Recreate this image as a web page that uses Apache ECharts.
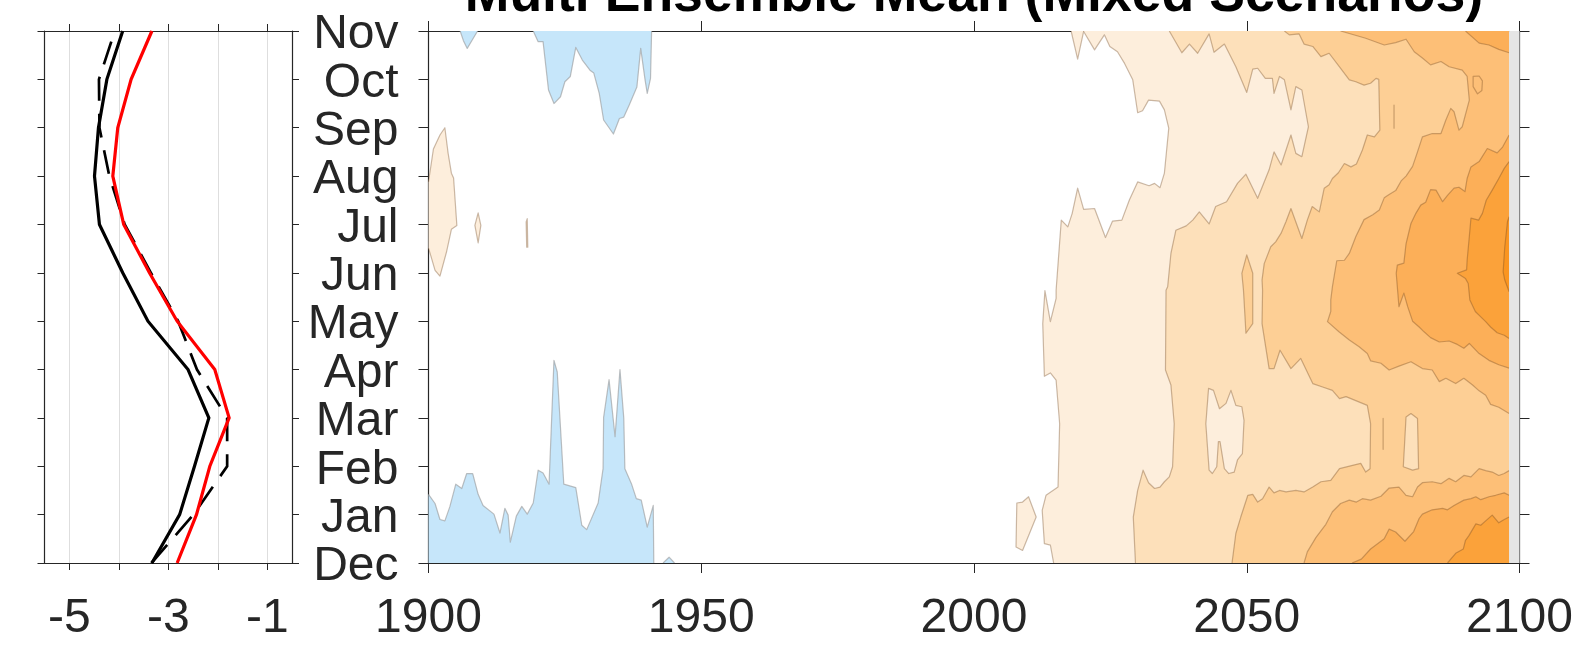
<!DOCTYPE html>
<html><head><meta charset="utf-8">
<script src="https://cdn.jsdelivr.net/npm/echarts@6/dist/echarts.min.js"></script>
<style>html,body{margin:0;padding:0;background:#fff}#chart{width:1594px;height:648px}</style>
</head><body><div id="chart"></div>
<script>
// ---------------- data ----------------
const TITLE = 'Multi Ensemble Mean (Mixed Scenarios)';
const MONTHS = ['Dec','Jan','Feb','Mar','Apr','May','Jun','Jul','Aug','Sep','Oct','Nov'];
const LEFT_X_TICKS = [-5,-4,-3,-2,-1];
const LEFT_X_LABELS = [-5,-3,-1];
const LEFT_X_RANGE = [-5.5,-0.5];
const YEAR_RANGE = [1900,2100];
const YEAR_STEP = 50;
const DATA_END = 2098.1;

// monthly profiles (Dec..Nov)
const RED_LINE    = [-2.82,-2.43,-2.16,-1.77,-2.06,-2.82,-3.38,-3.90,-4.12,-4.02,-3.75,-3.33];
const BLACK_LINE  = [-3.33,-2.77,-2.47,-2.18,-2.60,-3.41,-3.92,-4.39,-4.49,-4.41,-4.24,-3.92];
const DASHED_LINE = [-3.34,-2.49,-1.81,-1.81,-2.42,-2.80,-3.35,-3.88,-4.19,-4.39,-4.40,-4.08];

// contour boundaries [year, month index]
const BLUE_BOTTOM = [[1900,1.42],[1901.2,1.23],[1902.1,0.90],[1903.0,0.87],[1903.9,1.16],[1905.0,1.63],[1906.1,1.54],[1907.0,1.85],[1908.1,1.85],[1909.1,1.42],[1910.0,1.19],[1912.0,1.01],[1913.1,0.62],[1914.0,1.13],[1914.6,0.99],[1915.0,0.43],[1916.1,0.97],[1917.1,1.17],[1918.1,1.01],[1919.2,1.24],[1920.1,1.92],[1921.0,1.86],[1922.1,1.63],[1923.0,4.19],[1923.6,3.95],[1924.8,1.63],[1927.0,1.56],[1928.1,0.78],[1929.0,0.69],[1931.1,1.24],[1932.0,1.95],[1932.1,3.01],[1933.1,3.79],[1934.2,2.61],[1935.1,4.00],[1935.8,2.99],[1936.0,1.95],[1937.2,1.64],[1938.1,1.33],[1939.0,1.30],[1940.1,0.74],[1941.2,1.19],[1941.3,0]];
const BLUE_BOTTOM_CORNER = [[1900,0]];
const BLUE_BUMP = [[1943.0,0],[1944.1,0.12],[1945.1,0]];
const BLUE_TOP_A = [[1905.8,11],[1906.4,10.8],[1907.1,10.64],[1908.1,10.83],[1909.0,11]];
const BLUE_TOP_B = [[1919.2,11],[1920.1,10.78],[1921.0,10.78],[1922.0,9.78],[1923.0,9.50],[1924.2,9.64],[1925.0,9.95],[1926.0,10.06],[1927.0,10.66],[1928.2,10.40],[1929.6,10.19],[1930.3,10.13],[1931.3,9.71],[1932.1,9.16],[1933.9,8.87],[1935.0,9.19],[1935.8,9.22],[1936.8,9.47],[1938.2,9.84],[1938.9,10.64],[1939.7,9.99],[1940.1,9.71],[1940.7,10.02],[1940.9,11]];

const C1_LEFT_BLOB = [[1900,7.88],[1900.9,8.56],[1902.1,8.85],[1903.0,9.0],[1903.6,8.47],[1904.2,8.06],[1904.6,7.96],[1905.2,6.98],[1904.2,6.90],[1903.3,6.43],[1902.1,5.93],[1901.2,6.05],[1900.4,6.36],[1900,6.51]];
const C1_ISLE_1909 = [[1908.5,6.98],[1909.1,7.24],[1909.6,6.98],[1909.1,6.62]];
const C1_ISLE_1918 = [[1917.9,7.05],[1918.1,7.12],[1918.2,6.53],[1918.0,6.53]];
const C1_ISLE_2009 = [[2007.85,1.24],[2007.7,0.33],[2008.9,0.26],[2011.4,0.95],[2010.0,1.37],[2008.9,1.26]];
const B1 = [[2017.8,11],[2019.0,10.42],[2020.1,10.99],[2022.1,10.61],[2023.9,10.92],[2024.9,10.68],[2026.3,10.57],[2027.6,10.33],[2029.1,9.99],[2030.0,9.31],[2030.9,9.35],[2032.0,9.57],[2034.0,9.55],[2034.9,9.37],[2035.7,8.99],[2034.9,8.06],[2034.1,7.76],[2033.1,7.85],[2032.1,7.80],[2030.0,7.88],[2028.5,7.51],[2027.1,7.09],[2025.4,7.07],[2024.1,6.73],[2022.1,7.33],[2020.1,7.31],[2019.0,7.75],[2018.0,7.23],[2017.2,6.95],[2016.0,7.09],[2015.05,5.64],[2015.05,5.47],[2014.0,4.99],[2013.0,5.63],[2012.6,4.95],[2012.9,3.86],[2014.0,3.93],[2015.05,3.78],[2015.7,2.88],[2015.4,1.57],[2013.2,1.40],[2012.5,1.09],[2012.9,0.40],[2014.0,0.37],[2014.6,0]];
const B2 = [[2035.8,11],[2038.1,10.55],[2039.5,10.73],[2041.0,10.54],[2043.1,10.94],[2044.0,10.56],[2045.9,10.73],[2048.0,10.26],[2050.0,9.73],[2051.1,10.21],[2052.0,10.23],[2053.4,10.02],[2054.7,10.02],[2055.0,9.71],[2056.0,10.06],[2056.9,9.99],[2058.1,9.37],[2059.0,9.85],[2060.1,9.78],[2061.3,9.02],[2060.1,8.40],[2059.0,8.47],[2058.1,8.85],[2056.3,8.23],[2055.0,8.50],[2054.1,8.13],[2052.0,7.54],[2049.85,8.04],[2048.3,7.85],[2046.3,7.47],[2044.3,7.37],[2043.1,7.01],[2041.3,7.26],[2040.1,7.09],[2038.9,6.97],[2037.0,6.88],[2036.1,6.40],[2035.5,5.71],[2035.2,5.64],[2035.1,3.99],[2036.1,3.68],[2036.7,2.88],[2036.4,1.99],[2035.8,1.78],[2034.9,1.68],[2034.1,1.57],[2033.1,1.54],[2032.0,1.66],[2031.0,1.92],[2030.0,1.50],[2029.2,0.95],[2029.6,0]];
const C1_ISLE_2046 = [[2043.0,3.61],[2043.9,3.57],[2045.0,3.19],[2046.2,3.30],[2047.1,3.57],[2048.0,3.26],[2049.1,3.23],[2049.5,2.95],[2049.2,2.26],[2048.3,2.13],[2047.7,1.88],[2046.7,1.85],[2045.9,1.95],[2045.1,2.51],[2044.8,2.51],[2044.5,1.99],[2043.7,1.85],[2043.1,1.92],[2042.5,2.88]];
const B3 = [[2056.9,11],[2057.8,10.92],[2059.6,10.94],[2060.5,10.73],[2062.1,10.68],[2063.6,10.47],[2065.1,10.54],[2067.0,10.26],[2068.8,9.99],[2070.0,9.95],[2071.5,9.88],[2072.7,9.92],[2073.7,10.02],[2074.2,10.0],[2074.4,8.95],[2073.4,8.81],[2072.1,8.85],[2071.2,8.54],[2070.1,8.25],[2069.1,8.19],[2067.9,8.26],[2066.8,8.07],[2065.7,7.95],[2065.1,7.82],[2064.2,7.75],[2063.3,7.26],[2062.0,7.37],[2061.1,7.09],[2060.1,6.71],[2058.1,7.33],[2057.2,7.06],[2056.3,6.82],[2055.3,6.64],[2054.4,6.54],[2053.2,6.19],[2052.8,5.85],[2052.9,5.64],[2052.8,4.95],[2054.1,4.02],[2055.0,4.02],[2056.1,4.40],[2058.1,4.02],[2059.9,4.23],[2062.1,3.71],[2063.9,3.64],[2065.7,3.57],[2067.0,3.40],[2068.2,3.44],[2072.1,3.26],[2072.7,2.88],[2072.6,1.95],[2071.8,1.88],[2070.9,2.06],[2069.4,2.02],[2067.0,1.95],[2065.4,1.71],[2063.6,1.68],[2062.1,1.57],[2060.5,1.47],[2059.0,1.50],[2057.2,1.47],[2056.0,1.50],[2055.0,1.45],[2054.1,1.57],[2052.9,1.33],[2052.0,1.26],[2051.1,1.42],[2050.2,1.40],[2048.9,0.95],[2048.0,0.61],[2047.3,0]];
const C3_FINGER = [[2049.1,5.99],[2050.0,6.37],[2051.1,5.99],[2051.1,4.95],[2049.85,4.75],[2049.4,5.64]];
const C2_CAPSULE = [[2079.2,3.02],[2080.1,3.09],[2081.3,2.99],[2081.5,1.95],[2080.4,1.92],[2078.7,1.99]];
const SLIVER_2075 = [[2075.0,2.99],[2075.0,2.35]];
const SLIVER_2077 = [[2077.0,9.47],[2077.0,8.99]];
const B4_TOP = [[2067.2,11],[2071.8,10.85],[2075.2,10.71],[2077.3,10.76],[2079.2,10.83],[2080.7,10.57],[2082.2,10.44],[2083.7,10.30],[2085.6,10.37],[2087.1,10.26],[2089.5,10.19],[2090.4,10.06],[2090.8,9.57],[2089.5,9.02],[2088.9,8.95],[2088.0,9.33],[2087.4,9.40],[2086.5,9.16],[2085.6,8.88],[2084.0,8.88],[2082.2,8.81],[2081.3,8.50],[2080.4,8.2],[2079.2,8.0],[2078.3,7.9],[2077.3,7.7],[2076.1,7.62],[2075.2,7.55],[2074.3,7.3],[2073.1,7.2],[2071.5,7.1],[2070.0,6.75],[2068.8,6.40],[2067.9,6.26],[2066.5,6.25],[2065.7,5.71],[2065.4,5.44],[2065.4,5.2],[2064.8,4.99],[2066.9,4.78],[2068.8,4.61],[2070.6,4.47],[2072.1,4.33],[2072.7,4.18],[2074.6,4.13],[2076.1,3.99],[2077.9,4.07],[2080.1,4.16],[2082.2,4.02],[2084.0,3.99],[2085.3,3.75],[2086.5,3.82],[2088.3,3.71],[2089.8,3.82],[2091.4,3.68],[2092.6,3.56],[2093.8,3.47],[2094.7,3.28],[2096.2,3.22],[2098.1,3.09]];
const B4_TOP_CORNER = [[2098.1,11]];
const C4_LOOP = [[2091.5,10.06],[2092.6,10.07],[2093.2,9.97],[2093.1,9.77],[2092.3,9.70],[2091.5,9.85]];
const B4_BOTTOM = [[2098.1,1.91],[2097.2,1.85],[2096.2,1.81],[2095.0,1.88],[2093.8,1.91],[2092.6,1.95],[2091.1,1.78],[2089.8,1.81],[2088.3,1.68],[2087.1,1.75],[2085.6,1.64],[2084.0,1.68],[2082.2,1.66],[2081.3,1.57],[2080.4,1.37],[2079.2,1.40],[2077.9,1.57],[2076.1,1.55],[2074.6,1.38],[2072.7,1.30],[2071.2,1.33],[2070.1,1.26],[2068.8,1.30],[2067.2,1.23],[2065.7,1.06],[2064.5,0.80],[2062.7,0.53],[2061.1,0.23],[2060.5,0]];
const BOTTOM_RIGHT_CORNER = [[2098.1,0]];
const B5_TOP = [[2090.1,11],[2092.6,10.75],[2094.4,10.71],[2096.2,10.62],[2098.1,10.55]];
const B5_MID = [[2098.1,8.85],[2096.9,8.6],[2095.9,8.48],[2094.1,8.57],[2092.6,8.30],[2091.1,8.19],[2090.4,7.95],[2090.0,7.68],[2088.9,7.77],[2088.0,7.75],[2086.8,7.6],[2085.9,7.47],[2084.7,7.71],[2083.7,7.72],[2082.8,7.46],[2081.9,7.4],[2081.0,7.23],[2080.1,7.02],[2079.2,6.6],[2078.8,6.2],[2077.6,6.16],[2077.4,5.99],[2077.9,5.3],[2078.8,5.58],[2079.5,5.3],[2080.4,5.0],[2081.6,4.88],[2082.5,4.78],[2083.7,4.66],[2085.3,4.57],[2087.1,4.59],[2088.6,4.52],[2089.8,4.44],[2090.8,4.54],[2092.6,4.33],[2094.4,4.19],[2096.2,4.1],[2098.1,4.03]];
const B5_BOTTOM = [[2098.1,1.40],[2097.2,1.45],[2095.6,1.40],[2094.4,1.37],[2092.9,1.31],[2092.0,1.37],[2091.1,1.33],[2089.8,1.30],[2088.0,1.19],[2086.8,1.10],[2085.9,1.13],[2084.0,1.10],[2082.2,1.01],[2081.6,0.92],[2080.6,0.65],[2079.0,0.45],[2077.3,0.64],[2076.1,0.70],[2075.2,0.50],[2072.7,0.29],[2071.0,0.08],[2069.3,0]];
const B6_MID = [[2098.1,8.30],[2097.2,8.16],[2096.2,7.95],[2095.0,7.71],[2093.9,7.50],[2093.2,7.23],[2092.5,7.09],[2091.1,7.13],[2090.8,6.75],[2090.4,6.26],[2090.3,6.06],[2088.6,5.99],[2090.1,5.88],[2090.6,5.78],[2090.9,5.44],[2091.9,5.20],[2092.9,5.09],[2093.8,4.99],[2094.7,4.88],[2095.9,4.76],[2097.2,4.71],[2098.1,4.64]];
const B6_BOTTOM = [[2098.1,0.95],[2097.2,0.90],[2096.2,0.83],[2095.0,0.99],[2093.8,0.87],[2092.9,0.78],[2092.0,0.81],[2090.7,0.56],[2090.1,0.47],[2089.7,0.29],[2088.3,0.20],[2086.8,0]];
const C7_MID = [[2098.1,7.16],[2097.8,7.06],[2097.3,6.54],[2097.0,6.02],[2097.3,5.85],[2098.1,5.61]];
const RIGHT_EDGE_CORNERS = [[DATA_END,0],[DATA_END,11]];
const NODATA_STRIP = [[DATA_END,0],[2100,0],[2100,11],[DATA_END,11]];

// ---------------- styles ----------------
const FONT = '"Liberation Sans", Arial, Helvetica, sans-serif';
const INK = '#262626';
const FILL = {blue:'#c6e6fa', c1:'#fdeedc', c2:'#fde0ba', c3:'#fdcf95', c4:'#fdbf77', c5:'#fcaf58', c6:'#fba23a', c7:'#fa9520', nodata:'#e5e5e5'};
const EDGE = {blue:'rgba(150,150,150,0.6)', warm:'rgba(110,70,30,0.36)'};

// region list: [fill level, boundary, closing corners (null = closed island)]
const REGIONS = [
  ['blue', BLUE_BOTTOM, BLUE_BOTTOM_CORNER],
  ['blue', BLUE_BUMP, []],
  ['blue', BLUE_TOP_A, []],
  ['blue', BLUE_TOP_B, []],
  ['c1', C1_LEFT_BLOB, []],
  ['c1', C1_ISLE_1909, null],
  ['c1', C1_ISLE_1918, null],
  ['c1', C1_ISLE_2009, null],
  ['c1', B1, RIGHT_EDGE_CORNERS],
  ['c2', B2, RIGHT_EDGE_CORNERS],
  ['c1', C1_ISLE_2046, null],
  ['c3', B3, RIGHT_EDGE_CORNERS],
  ['c3', C3_FINGER, null],
  ['c2', C2_CAPSULE, null],
  [null, SLIVER_2075, null],
  [null, SLIVER_2077, null],
  ['c4', B4_TOP, B4_TOP_CORNER],
  ['c4', B4_BOTTOM, BOTTOM_RIGHT_CORNER],
  ['c4', C4_LOOP, null],
  ['c5', B5_TOP, B4_TOP_CORNER],
  ['c5', B5_MID, []],
  ['c5', B5_BOTTOM, BOTTOM_RIGHT_CORNER],
  ['c6', B6_MID, []],
  ['c6', B6_BOTTOM, BOTTOM_RIGHT_CORNER],
  ['c7', C7_MID, []]
];

function regionSeries(level, boundary, corners) {
  const ring = corners ? boundary.concat(corners) : boundary;
  const edge = level === 'blue' ? EDGE.blue : EDGE.warm;
  return {
    type: 'custom', xAxisIndex: 2, yAxisIndex: 2, clip: true, silent: true,
    dimensions: ['year','month'], encode: {x: 0, y: 1},
    data: ring,
    renderItem: function (params, api) {
      if (params.dataIndex !== 0) return null;
      const pts = ring.map(p => api.coord(p));
      const bpts = boundary.map(p => api.coord(p));
      const children = [];
      if (level) children.push({type: 'polygon', shape: {points: pts}, style: {fill: FILL[level], stroke: null}});
      if (corners) children.push({type: 'polyline', shape: {points: bpts}, style: {fill: null, stroke: edge, lineWidth: 1.2, lineJoin: 'round'}});
      else children.push({type: 'polygon', shape: {points: bpts}, style: {fill: null, stroke: edge, lineWidth: 1.2, lineJoin: 'round'}});
      return {type: 'group', children: children};
    }
  };
}

const series = REGIONS.map(r => regionSeries(r[0], r[1], r[2]));
series.push({
  type: 'custom', xAxisIndex: 2, yAxisIndex: 2, clip: true, silent: true,
  dimensions: ['year','month'], encode: {x: 0, y: 1}, data: NODATA_STRIP,
  renderItem: function (params, api) {
    if (params.dataIndex !== 0) return null;
    return {type: 'polygon', shape: {points: NODATA_STRIP.map(p => api.coord(p))}, style: {fill: FILL.nodata}};
  }
});

const prof = arr => arr.map((v, i) => [v, i]);
series.push(
  {type: 'line', xAxisIndex: 0, yAxisIndex: 0, data: prof(DASHED_LINE), symbol: 'none', clip: true,
   lineStyle: {color: '#000', width: 2.7, type: [24, 13], join: 'miter'}},
  {type: 'line', xAxisIndex: 0, yAxisIndex: 0, data: prof(BLACK_LINE), symbol: 'none', clip: true,
   lineStyle: {color: '#000', width: 3.2, join: 'miter'}},
  {type: 'line', xAxisIndex: 0, yAxisIndex: 0, data: prof(RED_LINE), symbol: 'none', clip: true,
   lineStyle: {color: '#ff0000', width: 3.2, join: 'miter'}}
);

const axLine = {show: true, onZero: false, lineStyle: {color: INK, width: 1.2}};
const FS = 48;
const lbl = (extra) => Object.assign({color: INK, fontSize: FS, fontFamily: FONT}, extra);
const plain = v => String(Math.round(v));

const option = {
  animation: false,
  backgroundColor: '#ffffff',
  graphic: [{
    type: 'text', x: 974, y: -4, z: 100,
    style: {text: TITLE, align: 'center', verticalAlign: 'middle', fill: '#000', font: 'bold 53.6px ' + FONT}
  }],
  grid: [
    {left: 44.5, top: 31, width: 247.5, height: 532},
    {left: 428.5, top: 31, width: 1091, height: 532}
  ],
  xAxis: [
    {gridIndex: 0, type: 'value', position: 'bottom', min: LEFT_X_RANGE[0], max: LEFT_X_RANGE[1],
     axisLine: axLine,
     axisTick: {show: true, inside: false, length: 7, customValues: LEFT_X_TICKS, lineStyle: {color: INK}},
     axisLabel: lbl({margin: 32, customValues: LEFT_X_LABELS, formatter: plain}),
     splitLine: {show: true, lineStyle: {color: '#dedede', width: 1}}},
    {gridIndex: 0, type: 'value', position: 'top', min: LEFT_X_RANGE[0], max: LEFT_X_RANGE[1],
     axisLine: axLine,
     axisTick: {show: true, inside: false, length: 7, customValues: LEFT_X_TICKS, lineStyle: {color: INK}},
     axisLabel: {show: false}, splitLine: {show: false}},
    {gridIndex: 1, type: 'value', position: 'bottom', min: YEAR_RANGE[0], max: YEAR_RANGE[1], interval: YEAR_STEP,
     axisLine: axLine,
     axisTick: {show: true, inside: false, length: 10, lineStyle: {color: INK}},
     axisLabel: lbl({margin: 32, formatter: plain}), splitLine: {show: false}},
    {gridIndex: 1, type: 'value', position: 'top', min: YEAR_RANGE[0], max: YEAR_RANGE[1], interval: YEAR_STEP,
     axisLine: axLine,
     axisTick: {show: true, inside: false, length: 10, lineStyle: {color: INK}},
     axisLabel: {show: false}, splitLine: {show: false}}
  ],
  yAxis: [
    {gridIndex: 0, type: 'value', position: 'left', min: 0, max: 11, interval: 1,
     axisLine: axLine, axisTick: {show: true, inside: false, length: 7, lineStyle: {color: INK}},
     axisLabel: {show: false}, splitLine: {show: false}},
    {gridIndex: 0, type: 'value', position: 'right', min: 0, max: 11, interval: 1,
     axisLine: axLine, axisTick: {show: true, inside: false, length: 7, lineStyle: {color: INK}},
     axisLabel: {show: false}, splitLine: {show: false}},
    {gridIndex: 1, type: 'value', position: 'left', min: 0, max: 11, interval: 1,
     axisLine: axLine, axisTick: {show: true, inside: false, length: 10, lineStyle: {color: INK}},
     axisLabel: lbl({margin: 30, verticalAlign: 'top', lineHeight: 8, formatter: v => MONTHS[Math.round(v)]}), splitLine: {show: false}},
    {gridIndex: 1, type: 'value', position: 'right', min: 0, max: 11, interval: 1,
     axisLine: axLine, axisTick: {show: true, inside: false, length: 10, lineStyle: {color: INK}},
     axisLabel: {show: false}, splitLine: {show: false}}
  ],
  series: series
};

const chart = echarts.init(document.getElementById('chart'), null, {renderer: 'canvas'});
chart.setOption(option);
</script></body></html>
